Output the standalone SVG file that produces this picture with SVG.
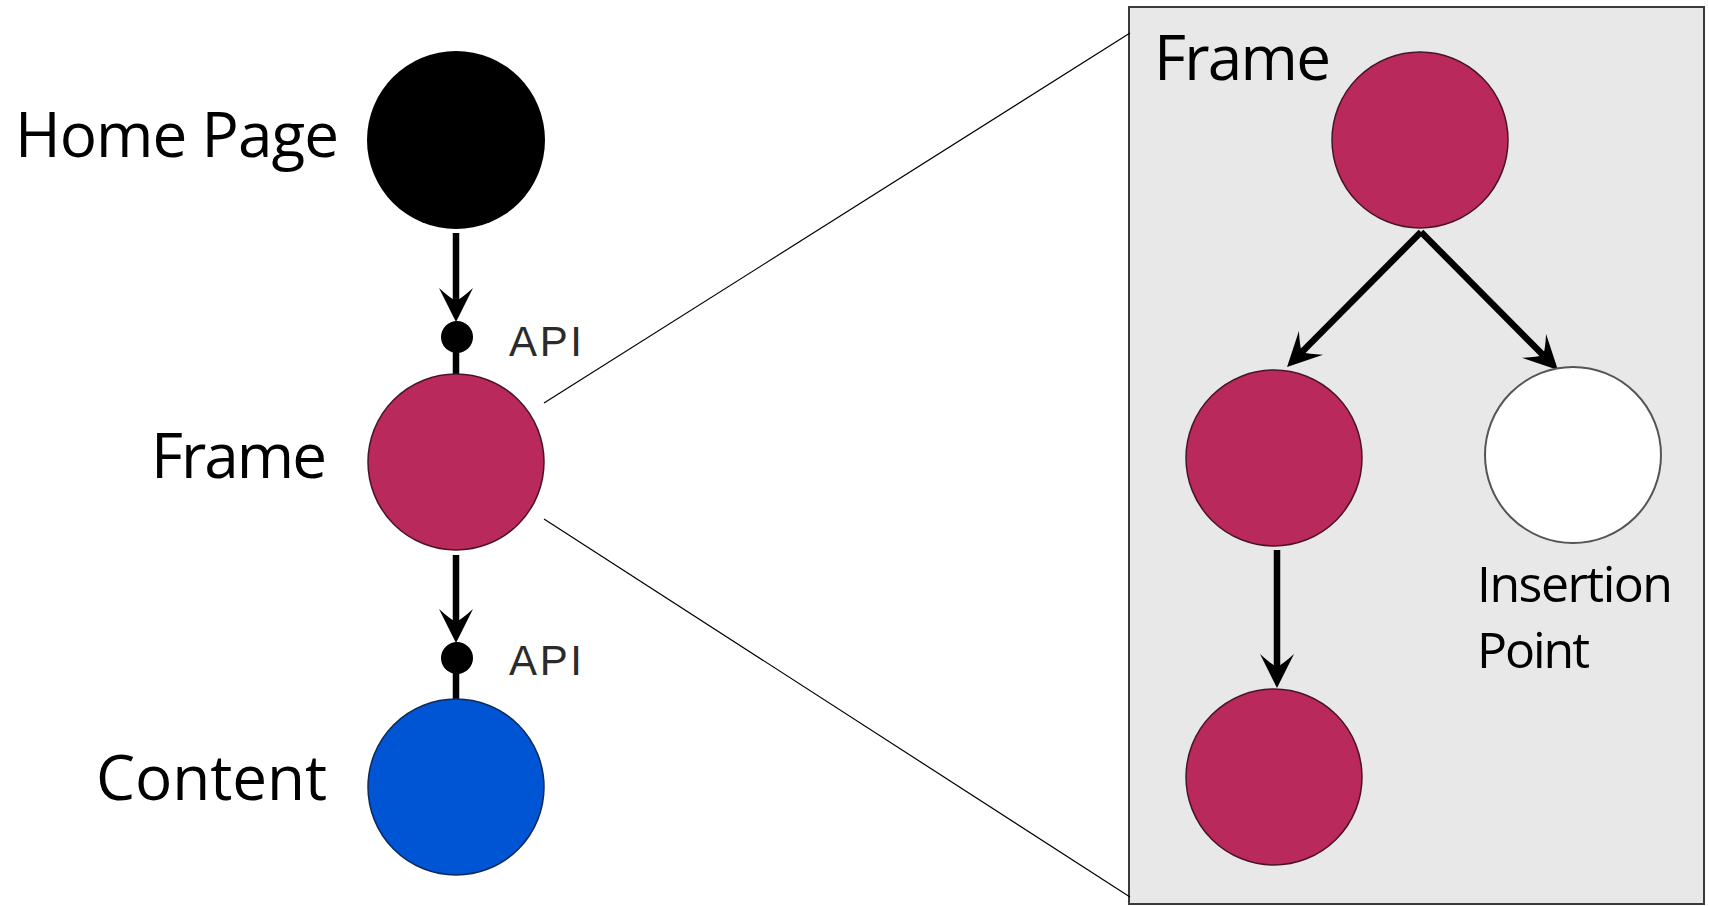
<svg xmlns="http://www.w3.org/2000/svg" width="1709" height="906" viewBox="0 0 1709 906">
<style>
.lbl{font-family:"Open Sans","Noto Sans","Liberation Sans",sans-serif;fill:#000;}
.big{font-size:62px;}
.mid{font-size:50px;}
.api{font-family:"Liberation Sans","DejaVu Sans",sans-serif;font-size:42px;fill:#2b2b2b;}
.frame{fill:#BA295B;stroke:#4a1428;stroke-width:1.5;}
.edge{stroke:#000;stroke-width:6.5;fill:none;}
.zoom{stroke:#000;stroke-width:1.2;fill:none;}
</style>
<defs>
<marker id="ah" markerUnits="userSpaceOnUse" viewBox="-24 -20 40 40" refX="0" refY="0" markerWidth="40" markerHeight="40" orient="auto">
<path d="M12,0 L-22,-17 Q-12,-6 -9,0 Q-12,6 -22,17 Z" fill="#000"/>
</marker>
</defs>
<rect id="zoom-box" x="1129" y="7" width="575" height="897" fill="#E8E8E8" stroke="#3a3a3a" stroke-width="2"/>
<g id="connectors">
<line class="zoom" x1="544" y1="403" x2="1130" y2="33"/>
<line class="zoom" x1="544" y1="519" x2="1130" y2="897"/>
<line class="edge" x1="456" y1="233" x2="456" y2="310" marker-end="url(#ah)"/>
<line class="edge" x1="456" y1="337" x2="456" y2="376"/>
<line class="edge" x1="456" y1="555" x2="456" y2="631" marker-end="url(#ah)"/>
<line class="edge" x1="456" y1="658" x2="456" y2="699"/>
<line class="edge" x1="1421" y1="232" x2="1295.5" y2="358.5" marker-end="url(#ah)"/>
<line class="edge" x1="1421" y1="232" x2="1549.5" y2="361.5" marker-end="url(#ah)"/>
<line class="edge" x1="1277" y1="550" x2="1277" y2="676" marker-end="url(#ah)"/>
</g>
<g id="home-page">
<circle cx="456" cy="140" r="89" fill="#000"/>
<text class="lbl big" x="15" y="157" textLength="324">Home Page</text>
</g>
<g id="api-1">
<circle cx="457" cy="337" r="16" fill="#000"/>
<text class="api" x="509" y="356" textLength="73">API</text>
</g>
<g id="frame">
<circle class="frame" cx="456" cy="462" r="88"/>
<text class="lbl big" x="151" y="478" textLength="176">Frame</text>
</g>
<g id="api-2">
<circle cx="457" cy="658" r="16" fill="#000"/>
<text class="api" x="509" y="675" textLength="73">API</text>
</g>
<g id="content">
<circle cx="456" cy="787" r="88" fill="#0055D4" stroke="#0d2a5a" stroke-width="1.5"/>
<text class="lbl big" x="96" y="800" textLength="231">Content</text>
</g>
<g id="frame-title">
<text class="lbl big" x="1154" y="80" textLength="177">Frame</text>
</g>
<g id="tree-root">
<circle class="frame" cx="1420" cy="140" r="88"/>
</g>
<g id="tree-left">
<circle class="frame" cx="1274" cy="458" r="88"/>
</g>
<g id="tree-insertion">
<circle cx="1573" cy="455" r="88" fill="#fff" stroke="#555" stroke-width="2"/>
<text class="lbl mid" x="1477" y="602" textLength="196">Insertion</text>
<text class="lbl mid" x="1477" y="668" textLength="113">Point</text>
</g>
<g id="tree-bottom">
<circle class="frame" cx="1274" cy="777" r="88"/>
</g>
</svg>
